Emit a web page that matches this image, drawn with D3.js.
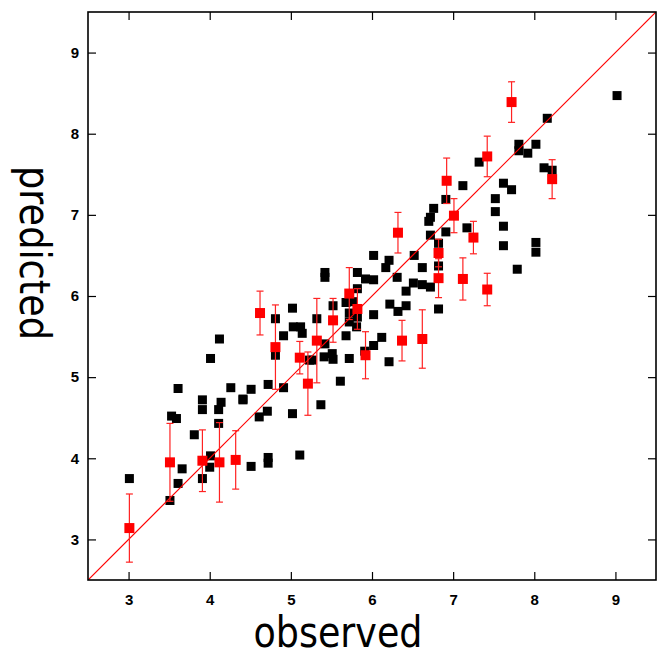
<!DOCTYPE html>
<html><head><meta charset="utf-8">
<script src="https://cdn.jsdelivr.net/npm/d3@7/dist/d3.min.js"></script>
<style>body{margin:0;background:#fff}svg{display:block}</style>
</head><body><svg id="c" width="657" height="651"></svg>
<script>
const blackObs = [4.12,4.01,3.61,4.26,4.51,4.72,4.81,4.91,3.91,3.91,4.14,4.11,4.41,3.53,3.59,4.71,4.61,4.11,3.81,4.01,4.00,3.66,3.91,3.61,4.51,4.72,4.72,3.01,3.51,4.81,4.91,
6.72,6.91,6.82,6.02,6.21,6.17,6.52,6.62,6.82,5.42,5.42,5.82,5.92,6.02,6.31,6.51,6.62,6.72,6.42,5.82,6.82,6.22,6.32,6.42,6.02,5.68,5.76,5.52,5.72,5.82,5.81,5.72,5.32,5.02,5.03,5.12,5.14,5.68,6.12,6.02,5.91,5.42,5.41,5.51,5.52,5.72,5.23,5.26,6.21,5.61,5.37,5.02,4.41,5.11,
9.02,8.16,7.81,7.81,7.92,8.02,7.32,8.12,8.22,7.12,7.62,7.72,7.52,7.52,6.91,7.62,7.17,7.62,8.02,8.02,7.79,6.76,6.72,6.70];
const blackPred = [5.47,5.23,4.86,4.87,4.85,4.91,5.27,4.87,4.72,4.60,4.69,4.60,4.72,4.52,4.49,4.58,4.51,4.43,4.29,4.03,3.89,3.87,3.75,3.69,3.90,4.01,3.94,3.75,3.48,5.72,5.51,
6.75,6.79,6.65,6.50,6.44,6.35,6.50,6.35,6.37,6.29,6.23,6.29,6.21,6.20,6.23,6.16,6.14,6.11,6.06,6.09,5.84,5.90,5.81,5.88,5.77,5.92,5.93,5.88,5.79,5.74,5.62,5.68,5.72,5.85,5.62,5.62,5.54,5.51,5.49,5.39,5.32,5.41,5.25,5.29,5.22,5.23,5.21,5.21,5.19,4.95,4.66,4.55,4.73,4.04,
8.47,8.19,7.87,7.79,7.76,7.87,7.65,7.58,7.55,7.36,7.39,7.31,7.20,7.04,7.19,6.86,6.84,6.62,6.66,6.54,6.33,7.08,6.97,6.92];
const redObs  = [3.01,3.51,3.91,4.12,4.32,4.62,4.81,5.11,5.21,5.32,5.52,5.72,5.82,5.92,6.32,6.37,6.62,6.82,6.82,6.92,7.01,7.12,7.25,7.42,7.42,7.72,8.22];
const redPred = [3.14,3.95,3.97,3.95,3.98,5.79,5.37,5.24,4.92,5.45,5.70,6.03,5.84,5.27,6.78,5.45,5.47,6.53,6.22,7.42,6.99,6.21,6.72,7.72,6.08,8.39,7.44];
const redErr  = [0.42,0.48,0.38,0.49,0.36,0.27,0.52,0.20,0.39,0.52,0.27,0.32,0.25,0.29,0.25,0.25,0.36,0.17,0.24,0.28,0.21,0.26,0.20,0.25,0.20,0.25,0.24];
const tickVals = [3,4,5,6,7,8,9];
const xTitle = "observed", yTitle = "predicted";

const svg = d3.select("#c");
const L=88, R=656, T=12, B=580;
const x = d3.scaleLinear().domain([2.5,9.5]).range([L,R]);
const y = d3.scaleLinear().domain([2.5,9.5]).range([B,T]);
const fmt = d3.format("d");

svg.append("defs").append("clipPath").attr("id","clip")
  .append("rect").attr("x",L).attr("y",T).attr("width",R-L).attr("height",B-T);

const styleAxis = g => {
  g.select(".domain").remove();
  g.selectAll(".tick line").attr("stroke","#000").attr("stroke-width",1.2);
  g.selectAll("text").attr("font-family","'Liberation Sans',Arial,sans-serif").attr("font-weight","bold").attr("font-size",15).attr("fill","#000");
};
svg.append("g").attr("transform",`translate(0,${B})`)
  .call(d3.axisBottom(x).tickValues(tickVals).tickFormat(fmt).tickSize(-8).tickPadding(14)).call(styleAxis);
svg.append("g").attr("transform",`translate(0,${T})`)
  .call(d3.axisTop(x).tickValues(tickVals).tickFormat("").tickSize(-8)).call(styleAxis);
svg.append("g").attr("transform",`translate(${L},0)`)
  .call(d3.axisLeft(y).tickValues(tickVals).tickFormat(fmt).tickSize(-8).tickPadding(9)).call(styleAxis);
svg.append("g").attr("transform",`translate(${R},0)`)
  .call(d3.axisRight(y).tickValues(tickVals).tickFormat("").tickSize(-8)).call(styleAxis);

const plot = svg.append("g").attr("clip-path","url(#clip)");
const blackPts = blackObs.map((o,i)=>({o, p: blackPred[i]}));
plot.selectAll("rect.b").data(blackPts).join("rect").attr("class","b")
  .attr("x",d=>x(d.o)-4.5).attr("y",d=>y(d.p)-4.5).attr("width",9).attr("height",9).attr("fill","#000");

plot.append("line").attr("x1",x(2.5)).attr("y1",y(2.5)).attr("x2",x(9.5)).attr("y2",y(9.5))
  .attr("stroke","#f00").attr("stroke-width",1.2);

const redPts = redObs.map((o,i)=>({o, p: redPred[i], e: redErr[i]}));
const eb = plot.selectAll("g.eb").data(redPts).join("g").attr("class","eb")
  .attr("stroke","#f22").attr("stroke-width",1.2);
eb.append("line").attr("x1",d=>x(d.o)).attr("x2",d=>x(d.o)).attr("y1",d=>y(d.p+d.e)).attr("y2",d=>y(d.p-d.e));
eb.append("line").attr("x1",d=>x(d.o)-3.5).attr("x2",d=>x(d.o)+3.5).attr("y1",d=>y(d.p+d.e)).attr("y2",d=>y(d.p+d.e));
eb.append("line").attr("x1",d=>x(d.o)-3.5).attr("x2",d=>x(d.o)+3.5).attr("y1",d=>y(d.p-d.e)).attr("y2",d=>y(d.p-d.e));
plot.selectAll("rect.r").data(redPts).join("rect").attr("class","r")
  .attr("x",d=>x(d.o)-5).attr("y",d=>y(d.p)-5).attr("width",10).attr("height",10).attr("fill","#f00");

svg.append("rect").attr("x",L).attr("y",T).attr("width",R-L).attr("height",B-T)
  .attr("fill","none").attr("stroke","#000").attr("stroke-width",1.6);

svg.append("text").attr("x",338).attr("y",647).attr("text-anchor","middle")
  .attr("font-family","'DejaVu Sans',Verdana,sans-serif").attr("font-size",42)
  .attr("textLength",169).attr("lengthAdjust","spacingAndGlyphs").attr("fill","#000").text(xTitle);
svg.append("text").attr("transform","translate(20,253) rotate(90)").attr("text-anchor","middle")
  .attr("font-family","'DejaVu Sans',Verdana,sans-serif").attr("font-size",42)
  .attr("textLength",174).attr("lengthAdjust","spacingAndGlyphs").attr("fill","#000").text(yTitle);
</script></body></html>
